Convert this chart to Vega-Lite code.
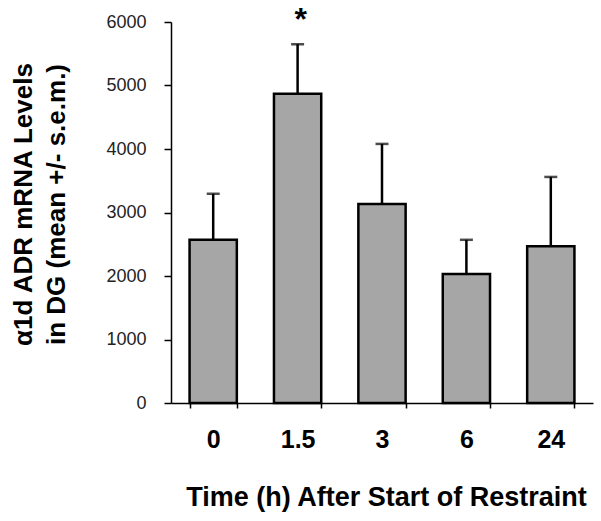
{
  "$schema": "https://vega.github.io/schema/vega-lite/v6.json",
  "autosize": "none",
  "width": 422,
  "height": 381,
  "padding": {"left": 171, "top": 22, "right": 8, "bottom": 118},
  "background": "white",
  "config": {"view": {"stroke": null}, "font": "Liberation Sans"},
  "data": {
    "values": [
      {"time": "0", "mean": 2570, "upper": 3295, "sig": ""},
      {"time": "1.5", "mean": 4870, "upper": 5650, "sig": "*"},
      {"time": "3", "mean": 3135, "upper": 4080, "sig": ""},
      {"time": "6", "mean": 2030, "upper": 2570, "sig": ""},
      {"time": "24", "mean": 2470, "upper": 3560, "sig": ""}
    ]
  },
  "encoding": {
    "x": {
      "field": "time",
      "type": "nominal",
      "sort": null,
      "scale": {"paddingInner": 0.44, "paddingOuter": 0.22},
      "axis": {
        "title": "Time (h) After Start of Restraint",
        "titleFont": "Liberation Sans",
        "titleFontSize": 27,
        "titleFontWeight": "bold",
        "titleColor": "black",
        "titleBaseline": "alphabetic",
        "titleX": 215,
        "titleY": 102,
        "labelAngle": 0,
        "labelFont": "Liberation Sans",
        "labelFontSize": 25,
        "labelFontWeight": "bold",
        "labelColor": "black",
        "labelPadding": 19,
        "tickBand": "extent",
        "tickSize": 5,
        "tickColor": "black",
        "tickWidth": 1.5,
        "domainColor": "black",
        "domainWidth": 1.5,
        "grid": false
      }
    }
  },
  "layer": [
    {
      "mark": {"type": "rule", "color": "black", "strokeWidth": 2.5},
      "encoding": {
        "y": {"field": "mean", "type": "quantitative"},
        "y2": {"field": "upper"}
      }
    },
    {
      "mark": {"type": "tick", "orient": "horizontal", "color": "black", "size": 13, "thickness": 2.5},
      "encoding": {
        "y": {"field": "upper", "type": "quantitative"}
      }
    },
    {
      "mark": {"type": "bar", "fill": "#a6a6a6", "stroke": "black", "strokeWidth": 2.5},
      "encoding": {
        "y": {
          "field": "mean",
          "type": "quantitative",
          "scale": {"domain": [0, 6000], "nice": false},
          "axis": {
            "title": ["α1d ADR mRNA  Levels", "in DG (mean +/- s.e.m.)"],
            "titleFont": "Liberation Sans",
            "titleFontSize": 26,
            "titleFontWeight": "bold",
            "titleColor": "black",
            "titleLineHeight": 33,
            "titleAngle": -90,
            "titleAlign": "center",
            "titleBaseline": "top",
            "titleX": -161,
            "titleY": 182,
            "values": [0, 1000, 2000, 3000, 4000, 5000, 6000],
            "format": "d",
            "labelFont": "Liberation Sans",
            "labelFontSize": 18,
            "labelColor": "#222222",
            "labelPadding": 18,
            "tickSize": 7,
            "tickColor": "black",
            "tickWidth": 1.5,
            "domainColor": "black",
            "domainWidth": 1.5,
            "grid": false
          }
        }
      }
    },
    {
      "mark": {"type": "text", "font": "Liberation Sans", "fontSize": 32, "fontWeight": "bold", "baseline": "middle", "dy": -24, "dx": 3, "color": "black"},
      "encoding": {
        "y": {"field": "upper", "type": "quantitative"},
        "text": {"field": "sig"}
      }
    }
  ]
}
